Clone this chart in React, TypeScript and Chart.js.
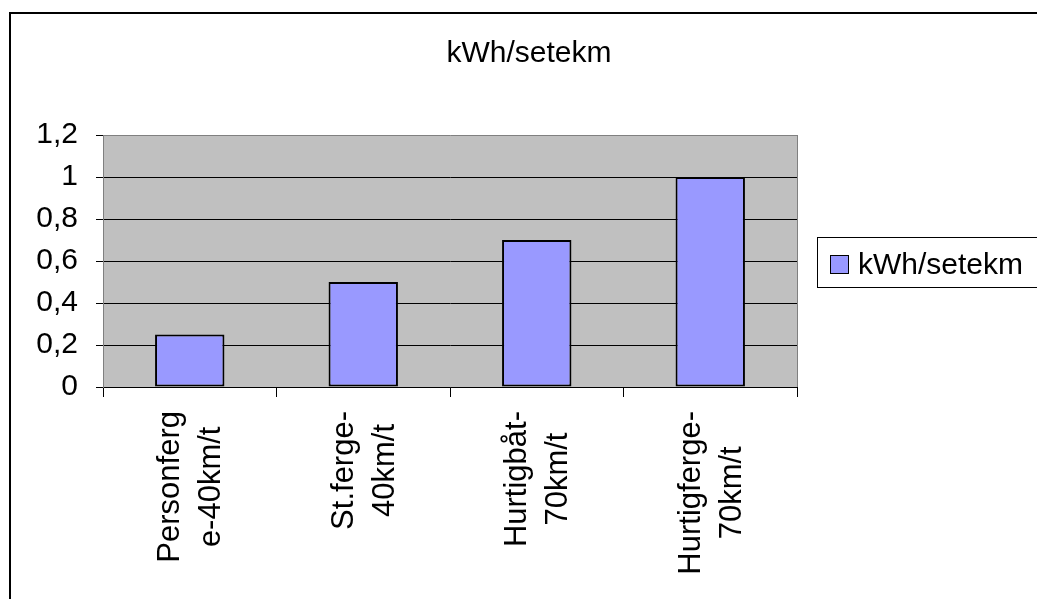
import React, { useEffect, useRef } from "react";
import { Chart, registerables } from "chart.js";

Chart.register(...registerables);

const categories: string[][] = [
  ["Personferg", "e-40km/t"],
  ["St.ferge-", "40km/t"],
  ["Hurtigbåt-", "70km/t"],
  ["Hurtigferge-", "70km/t"],
];
const seriesLabel = "kWh/setekm";
const titleText = "kWh/setekm";
const values = [0.25, 0.5, 0.7, 1.0];
const yMin = 0;
const yMax = 1.2;
const yStep = 0.2;

const FONT = "'Liberation Sans', Arial, sans-serif";
const BAR_FILL = "#9999FF";

export default function App() {
  const ref = useRef<HTMLCanvasElement | null>(null);

  useEffect(() => {
    const canvas = ref.current;
    if (!canvas) return;

    const decor = {
      id: "decor",
      beforeDraw(chart: any) {
        const { ctx, chartArea: a } = chart;
        ctx.save();
        ctx.fillStyle = "#ffffff";
        ctx.fillRect(0, 0, chart.width, chart.height);
        ctx.fillStyle = "#C0C0C0";
        ctx.fillRect(a.left, a.top, a.right - a.left, a.bottom - a.top);
        ctx.restore();
      },
      afterDatasetsDraw(chart: any) {
        const { ctx, chartArea: a } = chart;
        ctx.save();
        ctx.strokeStyle = "#808080";
        ctx.lineWidth = 1;
        ctx.beginPath();
        ctx.moveTo(Math.round(a.right) + 0.5, a.top);
        ctx.lineTo(Math.round(a.right) + 0.5, a.bottom);
        ctx.stroke();
        ctx.restore();
      },
      afterDraw(chart: any) {
        const { ctx } = chart;
        const xs = chart.scales.x;
        ctx.save();
        // outer frame
        ctx.strokeStyle = "#000";
        ctx.lineWidth = 2;
        ctx.strokeRect(10, 13, 1200, 1000);

        // title
        ctx.fillStyle = "#000";
        ctx.font = `30px ${FONT}`;
        ctx.textAlign = "center";
        ctx.textBaseline = "alphabetic";
        ctx.fillText(titleText, 529, 62);

        // x labels (rotated, lines centered)
        ctx.font = `31px ${FONT}`;
        categories.forEach((lines, i) => {
          const cx = xs.getPixelForValue(i);
          const maxW = Math.max(...lines.map((l) => ctx.measureText(l).width));
          ctx.save();
          ctx.translate(cx, 411);
          ctx.rotate(-Math.PI / 2);
          ctx.textAlign = "center";
          const offs = [-10.5, 30.5];
          lines.forEach((l, j) => {
            ctx.fillText(l, -maxW / 2, offs[j] ?? 30.5 + 41 * (j - 1));
          });
          ctx.restore();
        });

        // legend
        ctx.strokeStyle = "#000";
        ctx.lineWidth = 1;
        ctx.strokeRect(817.5, 237.5, 400, 50);
        ctx.fillStyle = BAR_FILL;
        ctx.fillRect(830, 255, 19, 19);
        ctx.strokeRect(830.5, 255.5, 18, 18);
        ctx.fillStyle = "#000";
        ctx.font = `30px ${FONT}`;
        ctx.textAlign = "left";
        ctx.fillText(seriesLabel, 858, 274);
        ctx.restore();
      },
    };

    const chart = new Chart(canvas, {
      type: "bar",
      data: {
        labels: categories.map((c) => c.join(" ")),
        datasets: [
          {
            label: seriesLabel,
            data: values,
            backgroundColor: BAR_FILL,
            borderColor: "#000",
            borderWidth: 2,
            borderSkipped: false,
            barPercentage: 0.4,
            categoryPercentage: 1,
          },
        ],
      },
      options: {
        responsive: false,
        animation: false,
        layout: { padding: { top: 135, right: 240, bottom: 0, left: 0 } },
        plugins: {
          legend: { display: false },
          title: { display: false },
          tooltip: { enabled: false },
        },
        scales: {
          x: {
            offset: true,
            grid: {
              offset: true,
              drawOnChartArea: false,
              drawTicks: true,
              tickLength: 10,
              color: "#000",
            },
            border: { display: true, color: "#000" },
            ticks: { display: false },
            afterFit: (s: any) => {
              s.height = 212;
            },
          },
          y: {
            min: yMin,
            max: yMax,
            grid: {
              color: (c: any) =>
                c.tick && Math.abs(c.tick.value - yMax) < 1e-6 ? "#808080" : "#000",
              tickLength: 7,
              drawTicks: true,
              tickColor: "#000",
            },
            border: { display: true, color: "#808080" },
            ticks: {
              stepSize: yStep,
              color: "#000",
              padding: 18,
              font: { family: FONT, size: 30 },
              callback: (v: any) =>
                String(Math.round(Number(v) * 10) / 10).replace(".", ","),
            },
            afterFit: (s: any) => {
              s.width = 103;
            },
          },
        },
      },
      plugins: [decor],
    });

    return () => chart.destroy();
  }, []);

  return (
    <div
      style={{
        position: "fixed",
        left: 0,
        top: 0,
        width: 1037,
        height: 599,
        overflow: "hidden",
        background: "#fff",
      }}
    >
      <canvas
        ref={ref}
        width={1037}
        height={599}
        style={{ width: 1037, height: 599, display: "block" }}
      />
    </div>
  );
}
